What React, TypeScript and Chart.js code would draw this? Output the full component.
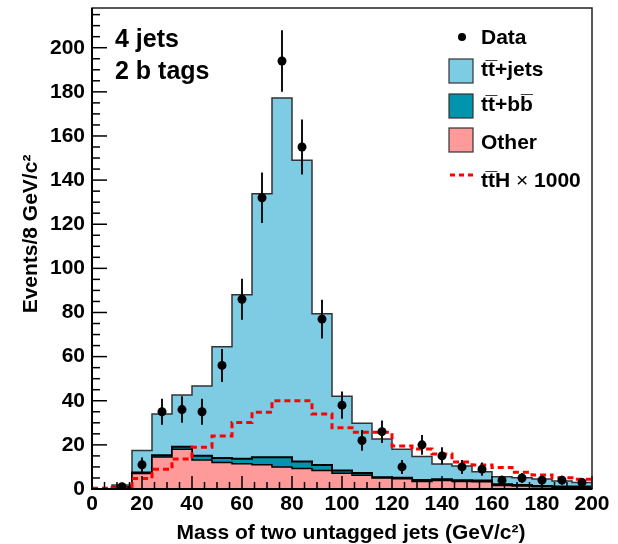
import React, { useEffect, useRef } from 'react';
import { Chart, registerables } from 'chart.js';

Chart.register(...registerables);

// ---- data (8 GeV/c^2 bins from 0 to 200) ----
const binEdges = [0, 8, 16, 24, 32, 40, 48, 56, 64, 72, 80, 88, 96, 104, 112, 120, 128, 136, 144, 152, 160, 168, 176, 184, 192, 200];
const binCenters = [4, 12, 20, 28, 36, 44, 52, 60, 68, 76, 84, 92, 100, 108, 116, 124, 132, 140, 148, 156, 164, 172, 180, 188, 196];

const otherBkg = [0, 0.6, 7.0, 14.5, 18.0, 13.2, 12.0, 11.4, 11.0, 10.0, 9.3, 8.4, 7.1, 6.2, 5.0, 4.6, 3.4, 3.9, 3.4, 3.3, 1.6, 1.4, 1.0, 0.8, 0.8];
const ttbb = [0, 0.3, 0.5, 0.8, 1.2, 1.9, 2.0, 2.3, 3.4, 4.4, 3.2, 2.5, 1.3, 1.0, 0.3, 0.5, 0.7, 0.5, 0.6, 0.5, 0.5, 0.4, 0.4, 0.3, 0.3];
const ttjets = [0, 0.9, 9.9, 18.7, 23.4, 31.6, 50.5, 74.3, 119.4, 162.8, 136.5, 68.5, 33.6, 22.6, 17.4, 12.9, 10.6, 6.9, 6.4, 4.0, 3.5, 3.3, 3.1, 2.5, 1.8];
const dataCounts = [0, 1, 11, 35, 36, 35, 56, 86, 132, 194, 155, 77, 38, 22, 26, 10, 20, 15, 10, 9, 4, 5, 4, 4, 3];
const ttH1000 = [0.3, 0.6, 4.8, 8.9, 13.6, 18.9, 24.0, 30.1, 34.8, 40.0, 40.0, 34.0, 27.8, 25.7, 25.7, 19.5, 18.1, 15.9, 12.2, 10.9, 9.8, 7.6, 6.3, 5.1, 4.4];

const yTickValues = [0, 20, 40, 60, 80, 100, 120, 140, 160, 180, 200];

const FONT = '"Liberation Sans", Arial, Helvetica, sans-serif';
const C_TTJETS = '#7ecbe4';
const C_TTBB = '#0095ad';
const C_OTHER = '#ff9a9a';

function stepPoints(values: number[]) {
  const pts = values.map((v, i) => ({ x: binEdges[i], y: v }));
  pts.push({ x: binEdges[values.length], y: values[values.length - 1] });
  return pts;
}

const pinkTop = otherBkg.slice();
const tealTop = otherBkg.map((v, i) => v + ttbb[i]);
const blueTop = tealTop.map((v, i) => v + ttjets[i]);

const dataPoints = binCenters
  .map((x, i) => ({ x, y: dataCounts[i] }))
  .filter((p) => p.y > 0);

const DATA_INDEX = 4;

const decorPlugin = {
  id: 'decor',
  beforeDatasetDraw(chart: any, args: any) {
    if (args.index !== DATA_INDEX) return;
    const { ctx, chartArea } = chart;
    const xs = chart.scales.x;
    const ys = chart.scales.y;
    ctx.save();
    ctx.beginPath();
    ctx.rect(chartArea.left, chartArea.top, chartArea.right - chartArea.left, chartArea.bottom - chartArea.top);
    ctx.clip();
    ctx.strokeStyle = '#111';
    ctx.lineWidth = 2;
    dataPoints.forEach((p) => {
      const e = Math.sqrt(p.y);
      const px = xs.getPixelForValue(p.x);
      ctx.beginPath();
      ctx.moveTo(px, ys.getPixelForValue(Math.max(0, p.y - e)));
      ctx.lineTo(px, ys.getPixelForValue(p.y + e));
      ctx.stroke();
    });
    ctx.restore();
  },
  afterDraw(chart: any) {
    const { ctx, chartArea } = chart;
    const xs = chart.scales.x;
    const ys = chart.scales.y;
    const L = chartArea.left, R = chartArea.right, T = chartArea.top, B = chartArea.bottom;
    ctx.save();
    // ticks
    ctx.strokeStyle = '#000';
    ctx.lineWidth = 1.5;
    for (let v = 0; v <= 215; v += 5) {
      const py = ys.getPixelForValue(v);
      const len = v % 20 === 0 ? 15 : 8;
      ctx.beginPath();
      ctx.moveTo(L, py);
      ctx.lineTo(L + len, py);
      ctx.stroke();
    }
    for (let v = 0; v <= 200; v += 5) {
      const px = xs.getPixelForValue(v);
      const len = v % 20 === 0 ? 13 : 7;
      ctx.beginPath();
      ctx.moveTo(px, B);
      ctx.lineTo(px, B - len);
      ctx.stroke();
    }
    // frame
    ctx.lineWidth = 1.5;
    ctx.strokeStyle = '#222';
    ctx.strokeRect(L, T, R - L, B - T);
    ctx.lineWidth = 2;
    ctx.strokeStyle = '#000';
    ctx.beginPath();
    ctx.moveTo(L, T);
    ctx.lineTo(L, B);
    ctx.lineTo(R, B);
    ctx.stroke();

    ctx.fillStyle = '#000';
    // axis titles
    ctx.font = `bold 21px ${FONT}`;
    ctx.textAlign = 'center';
    ctx.textBaseline = 'alphabetic';
    ctx.fillText('Mass of two untagged jets (GeV/c\u00B2)', 351, 539);
    ctx.save();
    ctx.translate(37, 234);
    ctx.rotate(-Math.PI / 2);
    ctx.fillText('Events/8 GeV/c\u00B2', 0, 0);
    ctx.restore();

    // labels
    ctx.textAlign = 'left';
    ctx.font = `bold 25px ${FONT}`;
    ctx.fillText('4 jets', 115, 47);
    ctx.fillText('2 b tags', 115, 79);

    // legend
    ctx.font = `bold 21px ${FONT}`;
    const tx = 481;
    ctx.beginPath();
    ctx.arc(462, 37, 4, 0, Math.PI * 2);
    ctx.fill();
    ctx.fillText('Data', tx, 44);

    const boxes: [string, string, number, number][] = [
      [C_TTJETS, 't\u0074\u0305+jets', 59, 76],
      [C_TTBB, 't\u0074\u0305+b\u0062\u0305', 94, 111],
      [C_OTHER, 'Other', 128, 149],
    ];
    boxes.forEach(([col, label, by, base]) => {
      ctx.fillStyle = col;
      ctx.fillRect(449, by, 24, 24);
      ctx.strokeStyle = '#333';
      ctx.lineWidth = 1.2;
      ctx.strokeRect(449, by, 24, 24);
      ctx.fillStyle = '#000';
      ctx.fillText(label, tx, base);
    });
    ctx.strokeStyle = '#ff0000';
    ctx.lineWidth = 3;
    ctx.setLineDash([5, 4]);
    ctx.beginPath();
    ctx.moveTo(450, 175);
    ctx.lineTo(475, 175);
    ctx.stroke();
    ctx.setLineDash([]);
    // "ttH x 1000" with a light-weight multiplication sign
    const part1 = 't\u0074\u0305H ';
    ctx.font = `bold 21px ${FONT}`;
    ctx.fillText(part1, tx, 187);
    let cx = tx + ctx.measureText(part1).width;
    ctx.font = `21px ${FONT}`;
    ctx.fillText('\u00D7', cx, 187);
    cx += ctx.measureText('\u00D7').width;
    ctx.font = `bold 21px ${FONT}`;
    ctx.fillText(' 1000', cx, 187);
    ctx.restore();
  },
};

export default function App() {
  const ref = useRef<HTMLCanvasElement>(null);
  useEffect(() => {
    const tickFont = { family: FONT, size: 21, weight: 'bold' as const };
    const chart = new Chart(ref.current!, {
      type: 'line',
      data: {
        datasets: [
          {
            label: 'Other',
            data: stepPoints(pinkTop),
            stepped: true,
            fill: 'origin',
            backgroundColor: C_OTHER,
            borderColor: '#000',
            borderWidth: 1.5,
            pointRadius: 0,
            order: 3,
          },
          {
            label: 'tt+bb',
            data: stepPoints(tealTop),
            stepped: true,
            fill: 'origin',
            backgroundColor: C_TTBB,
            borderColor: '#000',
            borderWidth: 2,
            pointRadius: 0,
            order: 4,
          },
          {
            label: 'tt+jets',
            data: stepPoints(blueTop),
            stepped: true,
            fill: 'origin',
            backgroundColor: C_TTJETS,
            borderColor: '#333',
            borderWidth: 1.5,
            pointRadius: 0,
            order: 5,
          },
          {
            label: 'ttH x 1000',
            data: stepPoints(ttH1000),
            stepped: true,
            fill: false,
            borderColor: '#ff0000',
            borderDash: [6, 4],
            borderWidth: 3,
            pointRadius: 0,
            order: 2,
          },
          {
            label: 'Data',
            data: dataPoints,
            showLine: false,
            pointRadius: 4.5,
            pointBackgroundColor: '#000',
            pointBorderColor: '#000',
            pointBorderWidth: 0,
            order: 1,
          } as any,
        ],
      },
      options: {
        animation: false,
        responsive: false,
        maintainAspectRatio: false,
        devicePixelRatio: 1,
        layout: { padding: { top: 8, right: 26, left: 0, bottom: 0 } },
        plugins: { legend: { display: false }, tooltip: { enabled: false } },
        scales: {
          x: {
            type: 'linear',
            min: 0,
            max: 200,
            grid: { display: false, drawTicks: false },
            border: { display: false },
            ticks: { stepSize: 20, font: tickFont, color: '#000', padding: 3, maxRotation: 0, autoSkip: false },
            afterFit: (s: any) => {
              s.height = 55;
              s.paddingLeft = 0;
              s.paddingRight = 0;
              s.paddingTop = 0;
              s.paddingBottom = 0;
            },
          },
          y: {
            type: 'linear',
            min: 0,
            max: 218,
            grid: { display: false, drawTicks: false },
            border: { display: false },
            ticks: { font: tickFont, color: '#000', padding: 7 },
            afterBuildTicks: (s: any) => { s.ticks = yTickValues.map((v) => ({ value: v })); },
            afterFit: (s: any) => {
              s.width = 92;
              s.paddingTop = 0;
              s.paddingBottom = 0;
              s.paddingLeft = 0;
              s.paddingRight = 0;
            },
          },
        },
      },
      plugins: [decorPlugin],
    } as any);
    return () => chart.destroy();
  }, []);
  return (
    <div style={{ position: 'fixed', left: 0, top: 0, width: 618, height: 544, background: '#fff' }}>
      <canvas ref={ref} width={618} height={544} style={{ display: 'block' }} />
    </div>
  );
}
